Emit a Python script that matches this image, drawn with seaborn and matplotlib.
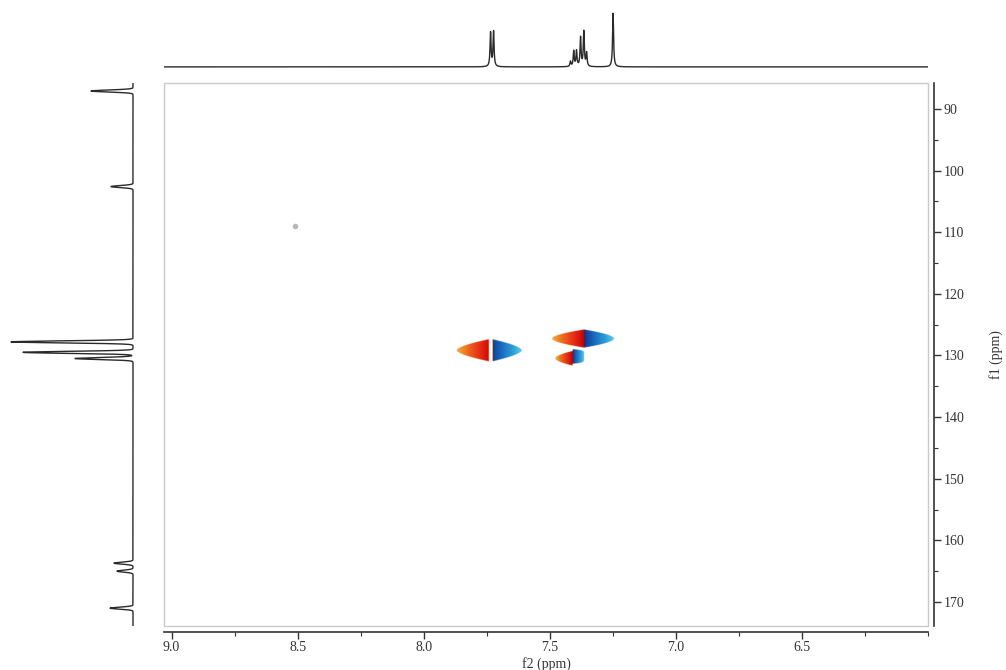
import numpy as np
import pandas as pd
import matplotlib
matplotlib.use("Agg")
import matplotlib.pyplot as plt
import seaborn as sns
from matplotlib.colors import LinearSegmentedColormap
from matplotlib.patches import Rectangle
from matplotlib.ticker import FixedLocator, MultipleLocator

# ---------------- data ----------------
# 1H projection (top trace): shifts (ppm) and relative heights
h_shift = [7.735, 7.723, 7.418, 7.405, 7.394, 7.378, 7.365, 7.354, 7.249]
h_int = [33, 34, 5, 15, 15, 28, 34, 13, 52]

# 13C projection (left trace): shifts (ppm) and relative heights
c_shift = [87.1, 102.6, 127.8, 129.5, 130.5, 163.7, 165.0, 171.0]
c_int = [42, 22, 122, 110, 58, 19, 16, 23]

# 2D cross peaks: centre (f2, f1), lobe lengths (ppm), half heights (ppm)
pk_f2 = [7.734, 7.365, 7.411, 7.411]
pk_f1 = [129.2, 127.3, 130.5, 130.2]
pk_left = [0.135, 0.127, 0.068, 0.0]
pk_right = [0.123, 0.119, 0.0, 0.046]
pk_half = [1.95, 1.55, 1.25, 1.25]
pk_shape = [0.6, 0.55, 0.55, 0.12]
pk_gap = [0.007, 0.0, 0.0, 0.0]

# small artefact spot
spot_f2 = [8.512]
spot_f1 = [109.0]

f2_ticks = [9.0, 8.5, 8.0, 7.5, 7.0, 6.5]
f1_ticks = [90, 100, 110, 120, 130, 140, 150, 160, 170]
f2_lim = (9.03, 6.0)
f1_lim = (173.9, 85.8)

# ---------------- style ----------------
sns.set_theme(style="white")
plt.rcParams["font.family"] = ["Liberation Serif", "DejaVu Serif"]

W, H = 1006, 670
fig = plt.figure(figsize=(W / 100, H / 100), dpi=100)

def fr(x0, y0, x1, y1):
    return [x0 / W, 1 - y1 / H, (x1 - x0) / W, (y1 - y0) / H]

ax = fig.add_axes(fr(164, 83, 928, 626))
ax_top = fig.add_axes(fr(164, 8, 928, 70), sharex=ax)
ax_left = fig.add_axes(fr(0, 83, 140, 626), sharey=ax)

# ---------------- top 1H trace ----------------
hx = np.linspace(f2_lim[0], f2_lim[1], 8000)
hy = np.zeros_like(hx)
for s, a in zip(h_shift, h_int):
    g = 0.0024
    hy += a * g**2 / ((hx - s) ** 2 + g**2)
df_h = pd.DataFrame({"ppm": hx, "I": hy})
sns.lineplot(data=df_h, x="ppm", y="I", ax=ax_top, color="#2a2a2a", lw=1.0,
             sort=False, estimator=None)
ax_top.set_ylim(-3, 57)
ax_top.axis("off")

# ---------------- left 13C trace ----------------
cy = np.linspace(f1_lim[1], f1_lim[0], 8000)
cx = np.zeros_like(cy)
for s, a in zip(c_shift, c_int):
    sg = 0.16
    cx += a * np.exp(-0.5 * ((cy - s) / sg) ** 2)
df_c = pd.DataFrame({"ppm": cy, "I": cx})
sns.lineplot(data=df_c, x="I", y="ppm", ax=ax_left, color="#2a2a2a", lw=1.0,
             sort=False, estimator=None, orient="y")
ax_left.set_xlim(133, -7)
ax_left.axis("off")

# ---------------- 2D map ----------------
gx = np.linspace(7.95, 7.20, 750)
gy = np.linspace(123.5, 134.5, 400)
X, Y = np.meshgrid(gx, gy)
val = np.full(X.shape, np.nan)
best = np.zeros(X.shape)
for f2c, f1c, Ll, Lr, hh, p, gap in zip(pk_f2, pk_f1, pk_left, pk_right,
                                        pk_half, pk_shape, pk_gap):
    dx = X - f2c
    dy = Y - f1c
    Lsel = np.where(dx > 0, Ll, Lr)
    with np.errstate(divide="ignore", invalid="ignore"):
        t = np.where(Lsel > 0, np.abs(dx) / np.where(Lsel > 0, Lsel, 1), 2)
    hgt = hh * np.clip(1 - t, 0, None) ** p
    with np.errstate(divide="ignore", invalid="ignore"):
        inten = np.where(hgt > 0, 1 - np.abs(dy) / np.where(hgt > 0, hgt, 1), -1)
    inside = (t < 1) & (inten > 0) & (np.abs(dx) >= gap)
    v = np.where(dx > 0, 0.49 * (1 - t), 0.51 + 0.49 * t)
    upd = inside & (inten > best)
    val[upd] = v[upd]
    best[upd] = inten[upd]

cmap = LinearSegmentedColormap.from_list(
    "hsqc",
    [(0.0, "#f7ad3c"), (0.10, "#f38226"), (0.22, "#ee521c"), (0.36, "#e42412"),
     (0.46, "#c80d0a"), (0.499, "#a80606"),
     (0.501, "#0a2a88"), (0.56, "#0f45a2"), (0.70, "#1a72c0"), (0.86, "#2d9ed6"),
     (1.0, "#5ccbe6")])
rgba = cmap(np.nan_to_num(val, nan=0.0))
rgba[..., 3] = np.where(np.isnan(val), 0.0, np.clip(best / 0.1, 0, 1))
ax.imshow(rgba, extent=(gx[0], gx[-1], gy[-1], gy[0]), aspect="auto",
          interpolation="bilinear", origin="upper", zorder=2)

ax.scatter(spot_f2, spot_f1, s=16, color="#a0a0a0", alpha=0.75, lw=0, zorder=3)

ax.set_xlim(*f2_lim)
ax.set_ylim(*f1_lim)

# frame & axes
ax.add_patch(Rectangle((0, 0), 1, 1, transform=ax.transAxes, fill=False,
                       ec="#c9c9c9", lw=1.0, clip_on=False, zorder=5))
for side in ["top", "left"]:
    ax.spines[side].set_visible(False)
for side in ["bottom", "right"]:
    ax.spines[side].set_visible(True)
    ax.spines[side].set_color("#333333")
    ax.spines[side].set_linewidth(1.2)
    ax.spines[side].set_position(("outward", 4))

ax.xaxis.set_major_locator(FixedLocator(f2_ticks))
ax.xaxis.set_minor_locator(MultipleLocator(0.25))
ax.set_xticklabels([f"{v:.1f}" for v in f2_ticks])
ax.yaxis.tick_right()
ax.yaxis.set_label_position("right")
ax.yaxis.set_major_locator(FixedLocator(f1_ticks))
ax.yaxis.set_minor_locator(MultipleLocator(5))
ax.set_yticklabels([str(v) for v in f1_ticks])
ax.tick_params(which="major", direction="out", length=5, width=1, color="#333333",
               labelsize=10, labelcolor="#333333", bottom=True, right=True, left=False,
               pad=2)
ax.tick_params(which="minor", direction="out", length=3, width=0.8, color="#333333",
               bottom=True, right=True, left=False)
ax.set_xlabel("f2 (ppm)", fontsize=10, color="#333333", labelpad=2)
ax.set_ylabel("f1 (ppm)", fontsize=10, color="#333333", labelpad=18, rotation=90)
ax.grid(False)

fig.savefig("out.png", dpi=100)
